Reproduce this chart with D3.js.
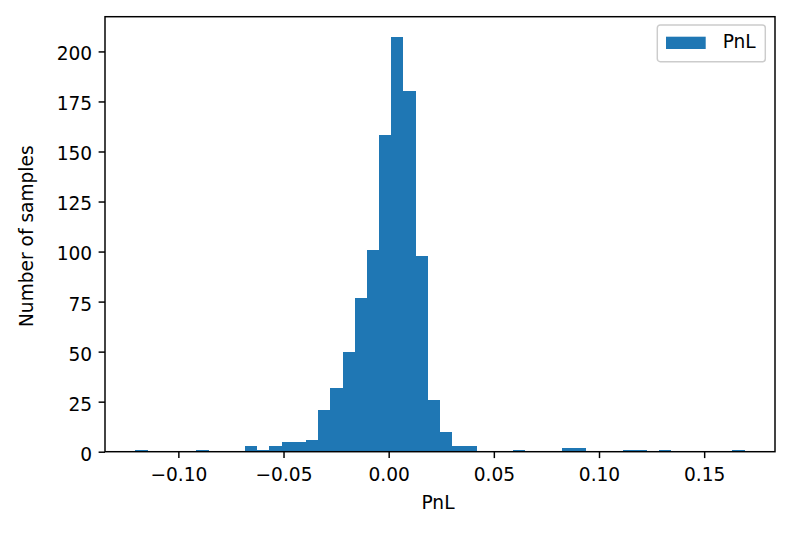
<!DOCTYPE html>
<html>
<head>
<meta charset="utf-8">
<script src="https://cdn.jsdelivr.net/npm/d3@7"></script>
<style>
  body { margin: 0; background: #fff; }
  svg text { font-family: "DejaVu Sans", sans-serif; fill: #000; }
</style>
</head>
<body>
<div class="chart"></div>
<script>
// histogram of PnL, 50 equal bins between binLo and binHi
const binLo = -0.1204,
  binHi = 0.1692;
const counts = [
  1, 0, 0, 0, 0, 1, 0, 0, 0, 3,
  1, 3, 5, 5, 6, 21, 32, 50, 77, 101,
  158, 207, 180, 98, 26, 10, 3, 3, 0, 0,
  0, 1, 0, 0, 0, 2, 2, 0, 0, 0,
  1, 1, 0, 1, 0, 0, 0, 0, 0, 1
];
const xTicks = [-0.10, -0.05, 0.00, 0.05, 0.10, 0.15];
const yTicks = [0, 25, 50, 75, 100, 125, 150, 175, 200];
const seriesName = "PnL";

const width = 792,
  height = 541;
const margin = { top: 16.7, right: 17, bottom: 89.3, left: 105 };
const fs = 18.6; // 10pt text

const nBins = counts.length;
const binW = (binHi - binLo) / nBins;
const bins = counts.map((c, i) => ({ x0: binLo + i * binW, x1: binLo + (i + 1) * binW, count: c }));

const span = binHi - binLo;
const x = d3.scaleLinear()
  .domain([binLo - 0.05 * span, binHi + 0.05 * span])
  .range([margin.left, width - margin.right]);
const y = d3.scaleLinear()
  .domain([0, d3.max(counts) * 1.05])
  .range([height - margin.bottom, margin.top]);

const svg = d3.select(".chart")
  .append("svg")
  .attr("width", width)
  .attr("height", height);

// bars
svg.append("g")
  .selectAll("rect")
  .data(bins.filter(d => d.count > 0))
  .enter()
  .append("rect")
  .attr("x", d => x(d.x0))
  .attr("width", d => x(d.x1) - x(d.x0))
  .attr("y", d => y(d.count))
  .attr("height", d => y(0) - y(d.count))
  .attr("fill", "#1f77b4")
  .attr("shape-rendering", "crispEdges");

// axes
const xAxis = svg.append("g")
  .attr("transform", "translate(0," + y(0) + ")")
  .call(d3.axisBottom(x).tickValues(xTicks).tickFormat(d3.format(".2f")).tickSize(6.4).tickSizeOuter(0));
xAxis.select(".domain").remove();
xAxis.selectAll(".tick line").attr("stroke", "#000").attr("stroke-width", 1.47);
xAxis.selectAll(".tick text")
  .attr("dy", null)
  .attr("y", 29)
  .style("font-size", fs + "px")
  .style("font-family", "DejaVu Sans");

const yAxis = svg.append("g")
  .attr("transform", "translate(" + x.range()[0] + ",0)")
  .call(d3.axisLeft(y).tickValues(yTicks).tickSize(6.4).tickPadding(6.4).tickSizeOuter(0));
yAxis.select(".domain").remove();
yAxis.selectAll(".tick line").attr("stroke", "#000").attr("stroke-width", 1.47);
yAxis.selectAll(".tick text")
  .attr("dy", null)
  .attr("y", 8.4)
  .style("font-size", fs + "px")
  .style("font-family", "DejaVu Sans");

// frame
svg.append("rect")
  .attr("x", x.range()[0])
  .attr("y", y.range()[1])
  .attr("width", x.range()[1] - x.range()[0])
  .attr("height", y.range()[0] - y.range()[1])
  .attr("fill", "none")
  .attr("stroke", "#000")
  .attr("stroke-width", 1.47);

// labels
svg.append("text")
  .attr("x", (x.range()[0] + x.range()[1]) / 2 - 2)
  .attr("y", 509)
  .attr("text-anchor", "middle")
  .style("font-size", fs + "px")
  .text("PnL");

svg.append("text")
  .attr("transform", "translate(33," + ((y.range()[0] + y.range()[1]) / 2 + 2) + ") rotate(-90)")
  .attr("text-anchor", "middle")
  .style("font-size", fs + "px")
  .text("Number of samples");

// legend
const legend = svg.append("g").attr("transform", "translate(657.3,25)");
legend.append("rect")
  .attr("width", 108)
  .attr("height", 36.7)
  .attr("rx", 3)
  .attr("fill", "#fff")
  .attr("fill-opacity", 0.8)
  .attr("stroke", "#cccccc")
  .attr("stroke-width", 1.47);
legend.append("rect")
  .attr("x", 8.7)
  .attr("y", 11.7)
  .attr("width", 39.7)
  .attr("height", 12.3)
  .attr("fill", "#1f77b4");
legend.append("text")
  .attr("x", 65.4)
  .attr("y", 23.3)
  .style("font-size", fs + "px")
  .text(seriesName);
</script>
</body>
</html>
